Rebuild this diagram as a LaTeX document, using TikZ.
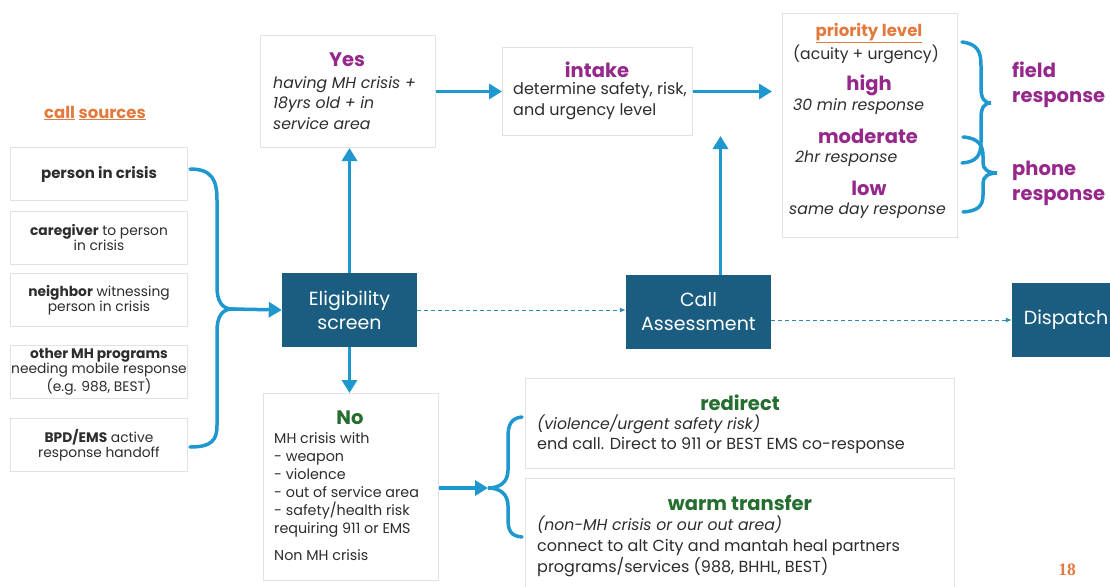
\documentclass[tikz,border=0pt]{standalone}
\usepackage{fontspec}
\setmainfont{Poppins}
\newfontfamily\numfont{Liberation Serif}
\usetikzlibrary{arrows.meta}
\definecolor{darkbox}{RGB}{26,93,128}
\definecolor{ablue}{RGB}{30,152,206}
\definecolor{dblue}{RGB}{45,140,180}
\definecolor{purp}{RGB}{150,40,140}
\definecolor{grn}{RGB}{38,110,48}
\definecolor{orng}{RGB}{226,122,62}
\definecolor{txt}{RGB}{45,45,45}
\definecolor{bgray}{RGB}{226,226,226}
\begin{document}
\begin{tikzpicture}[x=1pt,y=-1pt,
  box/.style={draw=bgray, line width=1pt, fill=white, inner sep=0pt, anchor=north west},
  srcbox/.style={box, minimum width=177pt, minimum height=53pt, align=center, text=txt,
     font=\fontsize{13.8}{15}\selectfont},
  dbox/.style={fill=darkbox, text=white, align=center, inner sep=0pt,
     font=\fontsize{19}{24}\selectfont},
  ttl/.style={font=\fontsize{19.5}{22}\selectfont\bfseries},
  body/.style={text=txt, align=left, anchor=west, inner sep=0pt, font=\fontsize{16}{21}\selectfont},
  ibody/.style={body, font=\fontsize{15.7}{20.5}\selectfont\itshape},
  arr/.style={draw=ablue, line width=3.5pt, -{Triangle[length=13pt,width=15pt]}},
  darr/.style={draw=dblue, line width=1pt, dash pattern=on 4pt off 3pt, -{Latex[length=6pt,width=5pt]}},
  brace/.style={draw=ablue, line width=3.5pt, line cap=round}
]
\useasboundingbox (0,0) rectangle (1110,586);
\clip (0,0) rectangle (1110,586);
\fill[white] (0,0) rectangle (1110,586);

% call sources
\node[text=orng, font=\fontsize{16.5}{18}\selectfont\bfseries] (cs) at (95,113) {\underline{call} \underline{sources}};
\node[srcbox] (s1) at (10,147) {\fontsize{15}{16}\selectfont\textbf{person in crisis}};
\node[srcbox] (s2) at (10,211) {\textbf{caregiver} to person\\in crisis};
\node[srcbox] (s3) at (10,273) {\textbf{neighbor} witnessing\\person in crisis};
\node[srcbox] (s4) at (10,345) {\textbf{other MH programs}\\needing mobile response\\(e.g. 988, BEST)};
\node[srcbox] (s5) at (10,418) {\textbf{BPD/EMS} active\\response handoff};

% left brace
\coordinate (lt) at (232,309);
\draw[brace] (190,169) .. controls (212,169) and (217,180) .. (217,200) -- (217,287)
   .. controls (217,301) and (222,309) .. (lt)
   .. controls (222,309) and (217,317) .. (217,331) -- (217,425)
   .. controls (217,440) and (212,447) .. (190,447);

% dark boxes
\node[dbox, minimum width=135pt, minimum height=74pt] (elig) at (349.5,310) {Eligibility\\screen};
\node[dbox, minimum width=145pt, minimum height=74pt] (ca) at (698.5,312) {Call\\Assessment};
\node[dbox, minimum width=110pt, minimum height=74pt] (disp) at (1067,320) {\hspace*{-2pt}Dispatch};

% Yes box
\node[box, minimum width=175pt, minimum height=112pt] (yes) at (260,35) {};
\node[ttl, text=purp] (yest) at (347,60) {Yes};
\node[ibody] (yesb) at (273,103) {having MH crisis +\\18yrs old + in\\service area};

% intake box
\node[box, minimum width=190pt, minimum height=88pt] (intake) at (502,47) {};
\node[ttl, text=purp] (intt) at (597,70) {intake};
\node[body] (intb) at (513,101.5) {determine safety, risk,\\and urgency level};

% priority box
\node[box, minimum width=175pt, minimum height=224pt] (prio) at (782,13) {};
\node[text=orng, font=\fontsize{16.5}{18}\selectfont\bfseries] (pl) at (869,33) {\underline{priority level}};
\node[text=txt, font=\fontsize{15.6}{18}\selectfont] (au) at (866,54) {(acuity + urgency)};
\node[ttl, text=purp] (hi) at (869,85) {high};
\node[ibody] (hir) at (793,107) {30 min response};
\node[ttl, text=purp] (mo) at (868,136) {moderate};
\node[ibody] (mor) at (795,159) {2hr response};
\node[ttl, text=purp] (lo) at (869,188) {low};
\node[ibody] (lor) at (789,211) {same day response};

% right braces
\draw[brace] (962,42) .. controls (978,44) and (981,52) .. (981,66) -- (981,88)
   .. controls (981,98) and (984,103) .. (991,103)
   .. controls (984,103) and (981,108) .. (981,118) -- (981,142)
   .. controls (981,156) and (976,162) .. (962,163);
\draw[brace] (963,137) .. controls (979,138) and (983,146) .. (983,156) -- (983,163)
   .. controls (983,169) and (988,173) .. (997,173)
   .. controls (988,173) and (983,177) .. (983,183) -- (983,195)
   .. controls (983,206) and (978,211) .. (963,212);
\node[text=purp, align=left, anchor=west, inner sep=0pt, font=\fontsize{19.5}{25}\selectfont\bfseries] (field) at (1012,85) {field\\response};
\node[text=purp, align=left, anchor=west, inner sep=0pt, font=\fontsize{19.5}{25}\selectfont\bfseries] (phone) at (1012,183) {phone\\response};

% No box
\node[box, minimum width=175pt, minimum height=187pt] (no) at (263,393) {};
\node[ttl, text=grn] (not) at (350,418) {No};
\node[body, font=\fontsize{14.3}{18}\selectfont] (nob) at (274,485) {MH crisis with\\- weapon\\- violence\\- out of service area\\- safety/health risk\\requiring 911 or EMS};
\node[body, font=\fontsize{14.3}{18}\selectfont] (nob2) at (274,555) {Non MH crisis};

% bottom brace
\coordinate (bt) at (488,488);
\draw[brace] (522,417) .. controls (511,418) and (508,425) .. (508,437) -- (508,470)
   .. controls (508,482) and (500,488) .. (bt)
   .. controls (500,488) and (508,494) .. (508,506) -- (508,519)
   .. controls (508,531) and (511,536) .. (522,537);

% redirect box
\node[box, minimum width=429pt, minimum height=90pt] (redir) at (525,378) {};
\node[ttl, text=grn] (rdt) at (740,403) {redirect};
\node[ibody] (rd1) at (537,424) {(violence/urgent safety risk)};
\node[body] (rd2) at (537,445) {end call. Direct to 911 or BEST EMS co-response};

% warm transfer box
\node[box, minimum width=429pt, minimum height=130pt] (warm) at (525,478) {};
\node[ttl, text=grn] (wtt) at (740,503) {warm transfer};
\node[ibody] (wt1) at (537,525) {(non-MH crisis or our out area)};
\node[body] (wt2) at (537,558) {connect to alt City and mantah heal partners\\programs/services (988, BHHL, BEST)};

% page number
\node[text=orng, font=\fontsize{17.5}{20}\selectfont\numfont\bfseries] (pg) at (1067,570) {18};

% connectors
\draw[arr] (lt) -- (elig.west);
\draw[arr] (elig.north) -- (elig.north |- yes.south);
\draw[arr] (elig.south) -- (elig.south |- no.north);
\draw[arr] (yes.east) -- (intake.west);
\draw[arr] (intake.east) -- ([xshift=-10pt]intake.east -| prio.west);
\draw[arr] ([xshift=22pt]ca.north) -- ([xshift=22pt]ca.north |- intake.south);
\draw[arr] (no.east |- bt) -- (bt);
\draw[darr] (elig.east) -- (elig.east -| ca.west);
\draw[darr] (disp.west -| ca.east) -- (disp.west);
\end{tikzpicture}
\end{document}
